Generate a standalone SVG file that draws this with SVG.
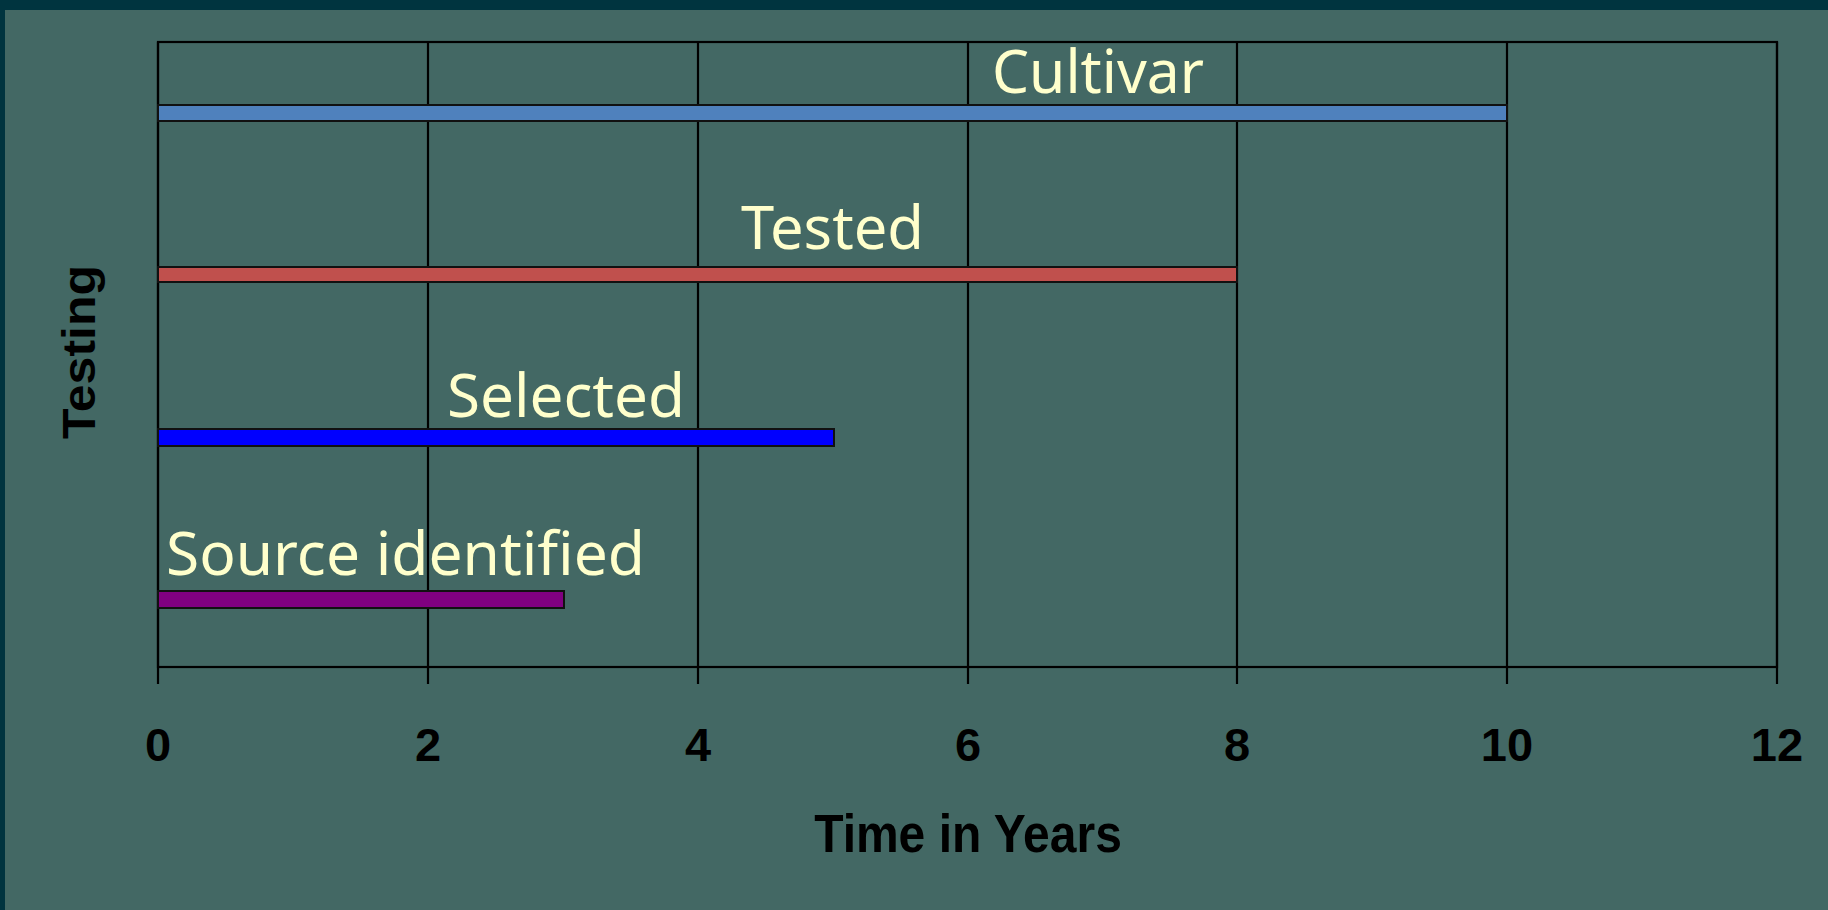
<svg xmlns="http://www.w3.org/2000/svg" width="1828" height="910" viewBox="0 0 1828 910">
<style>
.grid{stroke:#000;stroke-width:2.2;fill:none}
.bar{stroke:#111;stroke-width:2}
.lbl{font-family:"Noto Sans","Open Sans",sans-serif;font-size:61px;fill:#ffffcc}
.ax{font-family:"Liberation Sans",Arial,sans-serif;font-weight:bold;fill:#000}
.tick{font-size:47px;text-anchor:middle}
</style>
<rect x="0" y="0" width="1828" height="910" fill="#00343f"/>
<rect x="5" y="10" width="1823" height="900" fill="#436864"/>
<g id="plot-frame">
<rect class="grid" x="158" y="42" width="1619" height="625"/>
<path class="grid" d="M158 42V684M428 42V684M698 42V684M968 42V684M1237 42V684M1507 42V684M1777 42V684"/>
</g>
<g id="axis-labels">
<text class="ax tick" x="158" y="761">0</text>
<text class="ax tick" x="428" y="761">2</text>
<text class="ax tick" x="698" y="761">4</text>
<text class="ax tick" x="968" y="761">6</text>
<text class="ax tick" x="1237" y="761">8</text>
<text class="ax tick" x="1507" y="761">10</text>
<text class="ax tick" x="1777" y="761">12</text>
<text class="ax" font-size="48" text-anchor="middle" transform="translate(968,852) scale(1,1.1)">Time in Years</text>
<text class="ax" font-size="46" text-anchor="middle" textLength="174" lengthAdjust="spacingAndGlyphs" transform="translate(95,352) rotate(-90)">Testing</text>
</g>
<g id="cultivar">
<rect class="bar" x="158" y="105" width="1349" height="16" fill="#4f81bd"/>
<text class="lbl" x="992" y="93" textLength="212" lengthAdjust="spacingAndGlyphs">Cultivar</text>
</g>
<g id="tested">
<rect class="bar" x="158" y="267" width="1079" height="15" fill="#c0504d"/>
<text class="lbl" x="741" y="249" textLength="183" lengthAdjust="spacingAndGlyphs">Tested</text>
</g>
<g id="selected">
<rect class="bar" x="158" y="429" width="676" height="17" fill="#0000ff"/>
<text class="lbl" x="447" y="417" textLength="238" lengthAdjust="spacingAndGlyphs">Selected</text>
</g>
<g id="source-identified">
<rect class="bar" x="158" y="591" width="406" height="17" fill="#800080"/>
<text class="lbl" x="166" y="575" textLength="479" lengthAdjust="spacingAndGlyphs">Source identified</text>
</g>
</svg>
